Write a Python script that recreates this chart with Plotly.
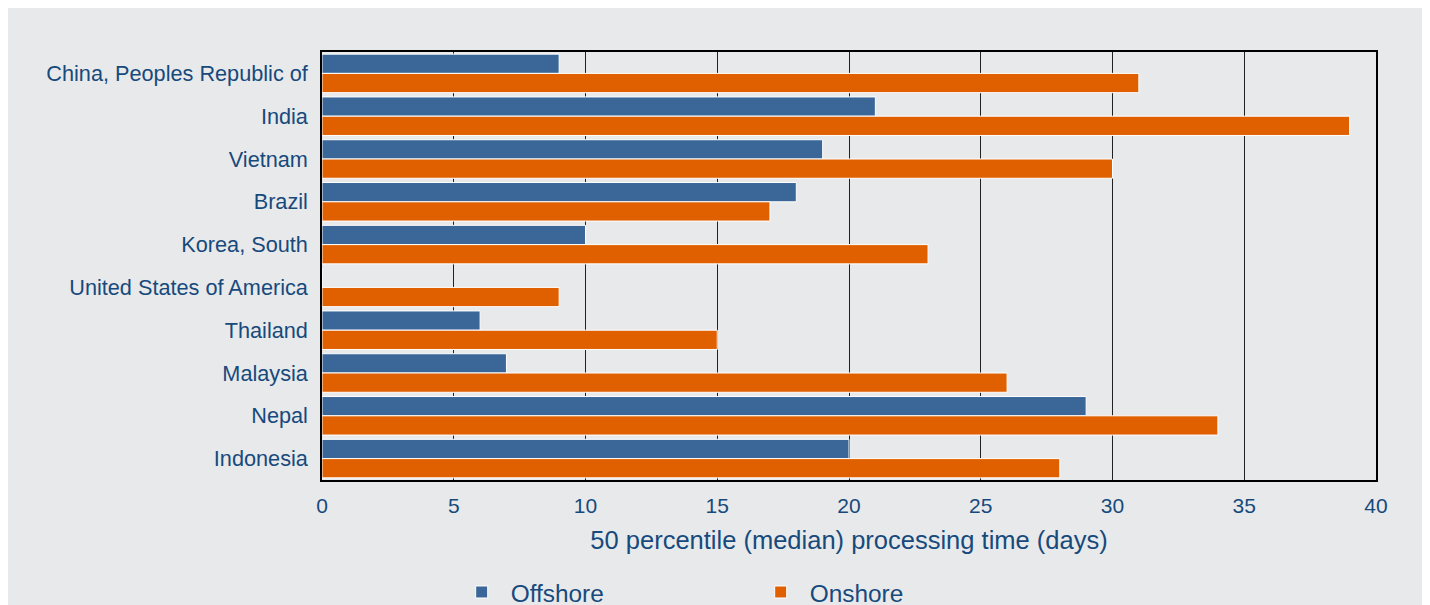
import plotly.graph_objects as go

countries = ["China, Peoples Republic of", "India", "Vietnam", "Brazil", "Korea, South",
             "United States of America", "Thailand", "Malaysia", "Nepal", "Indonesia"]
offshore = [9, 21, 19, 18, 10, 0, 6, 7, 29, 20]
onshore = [31, 39, 30, 17, 23, 9, 15, 26, 34, 28]
x_ticks = [0, 5, 10, 15, 20, 25, 30, 35, 40]

TEXT = "#174a7c"
BG = "#e8e9eb"
FONT = "Liberation Sans, Arial, sans-serif"

fig = go.Figure()
fig.add_trace(go.Bar(y=countries, x=offshore, orientation="h", name="Offshore",
                     marker=dict(color="#3a6698", line=dict(color="white", width=1))))
fig.add_trace(go.Bar(y=countries, x=onshore, orientation="h", name="Onshore",
                     marker=dict(color="#e06000", line=dict(color="white", width=1))))

fig.update_layout(
    width=1430, height=605,
    margin=dict(l=314, r=62, t=44, b=133, autoexpand=False),
    paper_bgcolor=BG, plot_bgcolor=BG,
    font=dict(family=FONT, color=TEXT, size=21),
    barmode="group", bargap=0.1, bargroupgap=0,
    showlegend=True,
    legend=dict(orientation="h", x=0.124, xanchor="left", y=-0.262, yanchor="middle",
                font=dict(size=24.4, color=TEXT), itemwidth=48,
                entrywidth=236, entrywidthmode="pixels", bgcolor="rgba(0,0,0,0)"),
)
fig.update_xaxes(range=[0, 40], tickvals=x_ticks, showgrid=True, gridcolor="#222222",
                 gridwidth=1, zeroline=False, showline=True, linecolor="black",
                 linewidth=1.5, mirror=True, ticks="", ticklabelstandoff=6,
                 tickfont=dict(size=21, color=TEXT),
                 title=dict(text="50 percentile (median) processing time (days)",
                            font=dict(size=25.5, color=TEXT), standoff=15))
fig.update_yaxes(autorange="reversed", showgrid=False, showline=True, linecolor="black",
                 linewidth=1.5, mirror=True, ticks="", ticklabelstandoff=8,
                 tickfont=dict(size=21.7, color=TEXT))

fig.write_html("out.html")
